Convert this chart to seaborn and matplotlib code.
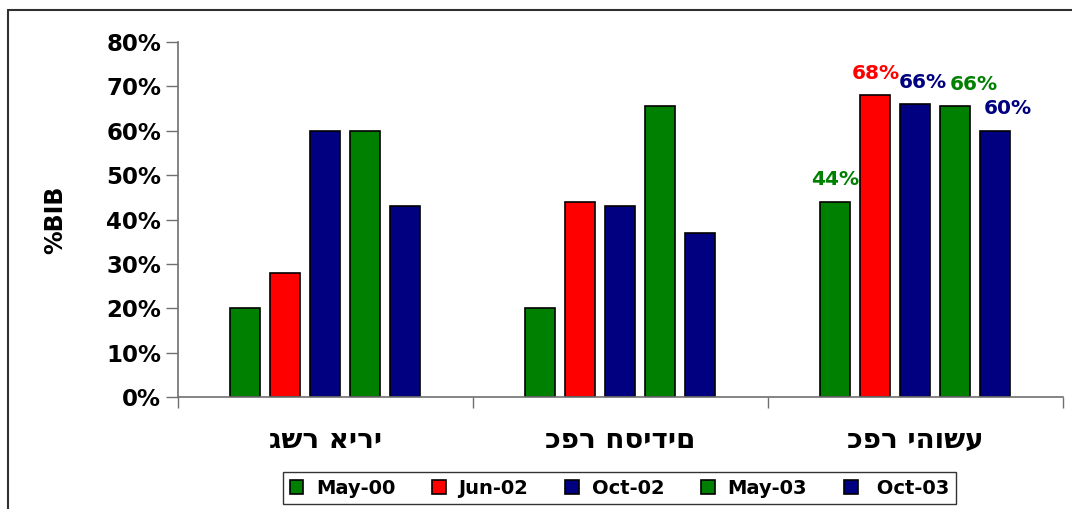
import pandas as pd
import matplotlib
matplotlib.use('Agg')
import matplotlib.pyplot as plt
import seaborn as sns
from matplotlib.lines import Line2D

# values (percent)
places = ['גשר אירי', 'כפר חסידים', 'כפר יהושע']
surveys = ['May-00', 'Jun-02', 'Oct-02', 'May-03', 'Oct-03']
values = {
    'May-00': [20, 20, 44],
    'Jun-02': [28, 44, 68],
    'Oct-02': [60, 43, 66],
    'May-03': [60, 65.5, 65.5],
    'Oct-03': [43, 37, 60],
}
colors = ['#008000', '#FF0000', '#000080', '#008000', '#000080']
# only the last group carries value labels
labeled_place = 'כפר יהושע'
label_shift = [0, 0, 5, 13, 9]  # points, to nudge the labels like the original

rows = []
for s in surveys:
    for p, v in zip(places, values[s]):
        rows.append({'place': p, 'survey': s, 'value': v})
df = pd.DataFrame(rows)

sns.set_style('white')
plt.rcParams['font.family'] = ['DejaVu Sans']
plt.rcParams['font.weight'] = 'bold'
plt.rcParams['text.color'] = 'black'
plt.rcParams['axes.labelcolor'] = 'black'
plt.rcParams['xtick.labelcolor'] = 'black'
plt.rcParams['ytick.labelcolor'] = 'black'

fig = plt.figure(figsize=(10.72, 5.09), dpi=100)
ax = fig.add_axes([0.166, 0.22, 0.9916 - 0.166, 0.9175 - 0.22])

palette = dict(zip(surveys, colors))
sns.barplot(data=df, x='place', y='value', hue='survey', order=places,
            hue_order=surveys, palette=palette, width=0.678, gap=0.25,
            edgecolor='black', linewidth=1.2, saturation=1, ax=ax)

ax.set_ylim(0, 80)
ax.set_xlim(-0.5, 2.5)
ax.set_yticks(range(0, 81, 10))
ax.set_yticklabels([f'{t}%' for t in range(0, 81, 10)], fontsize=16.5,
                   fontweight='bold', color='black')

# category borders as ticks, names in between
ax.set_xticks([-0.5, 0.5, 1.5, 2.5])
ax.set_xticklabels([])
ax.set_xticks([0, 1, 2], minor=True)
ax.set_xticklabels(places, minor=True, fontsize=20, fontweight='bold',
                   color='black')
ax.tick_params(axis='x', which='minor', length=0, pad=21)
ax.tick_params(axis='x', which='major', length=8, width=1, color='#707070',
               direction='out', bottom=True)
ax.tick_params(axis='y', length=9, width=1, color='#707070', direction='out',
               left=True, pad=3)

for side in ['top', 'right']:
    ax.spines[side].set_visible(False)
for side in ['left', 'bottom']:
    ax.spines[side].set_color('#707070')
    ax.spines[side].set_linewidth(1.2)

ax.set_xlabel('')
ax.set_ylabel('%BIB', fontsize=17, fontweight='bold', labelpad=28,
              color='black')

# value labels above the last group's bars
idx = places.index(labeled_place)
for cont, col, dx in zip(ax.containers, colors, label_shift):
    bar = cont.patches[idx]
    h = bar.get_height()
    ax.annotate(f'{h:.0f}%', (bar.get_x() + bar.get_width() / 2, h),
                xytext=(dx, 9), textcoords='offset points', ha='center',
                va='bottom', color=col, fontsize=14.5, fontweight='bold')

sns.move_legend(ax, 'center', bbox_to_anchor=(0.578, 0.041),
                bbox_transform=fig.transFigure, ncol=5, title=None,
                frameon=True, fontsize=14, handlelength=0.7,
                handleheight=0.7, handletextpad=0.65, columnspacing=1.9,
                borderpad=0.35, fancybox=False, edgecolor='black')
leg = ax.get_legend()
leg.get_frame().set_linewidth(1.0)
for t in leg.get_texts():
    t.set_fontweight('bold')
    t.set_color('black')
leg.get_texts()[-1].set_text(' Oct-03')

# outer chart-area frame, cut off at the right and bottom
fig.add_artist(Line2D([8 / 1072, 1], [1 - 10 / 509, 1 - 10 / 509],
                      color='#303030', lw=1.5))
fig.add_artist(Line2D([8 / 1072, 8 / 1072], [0, 1 - 10 / 509],
                      color='#303030', lw=1.5))

fig.savefig('out.png', dpi=100)
